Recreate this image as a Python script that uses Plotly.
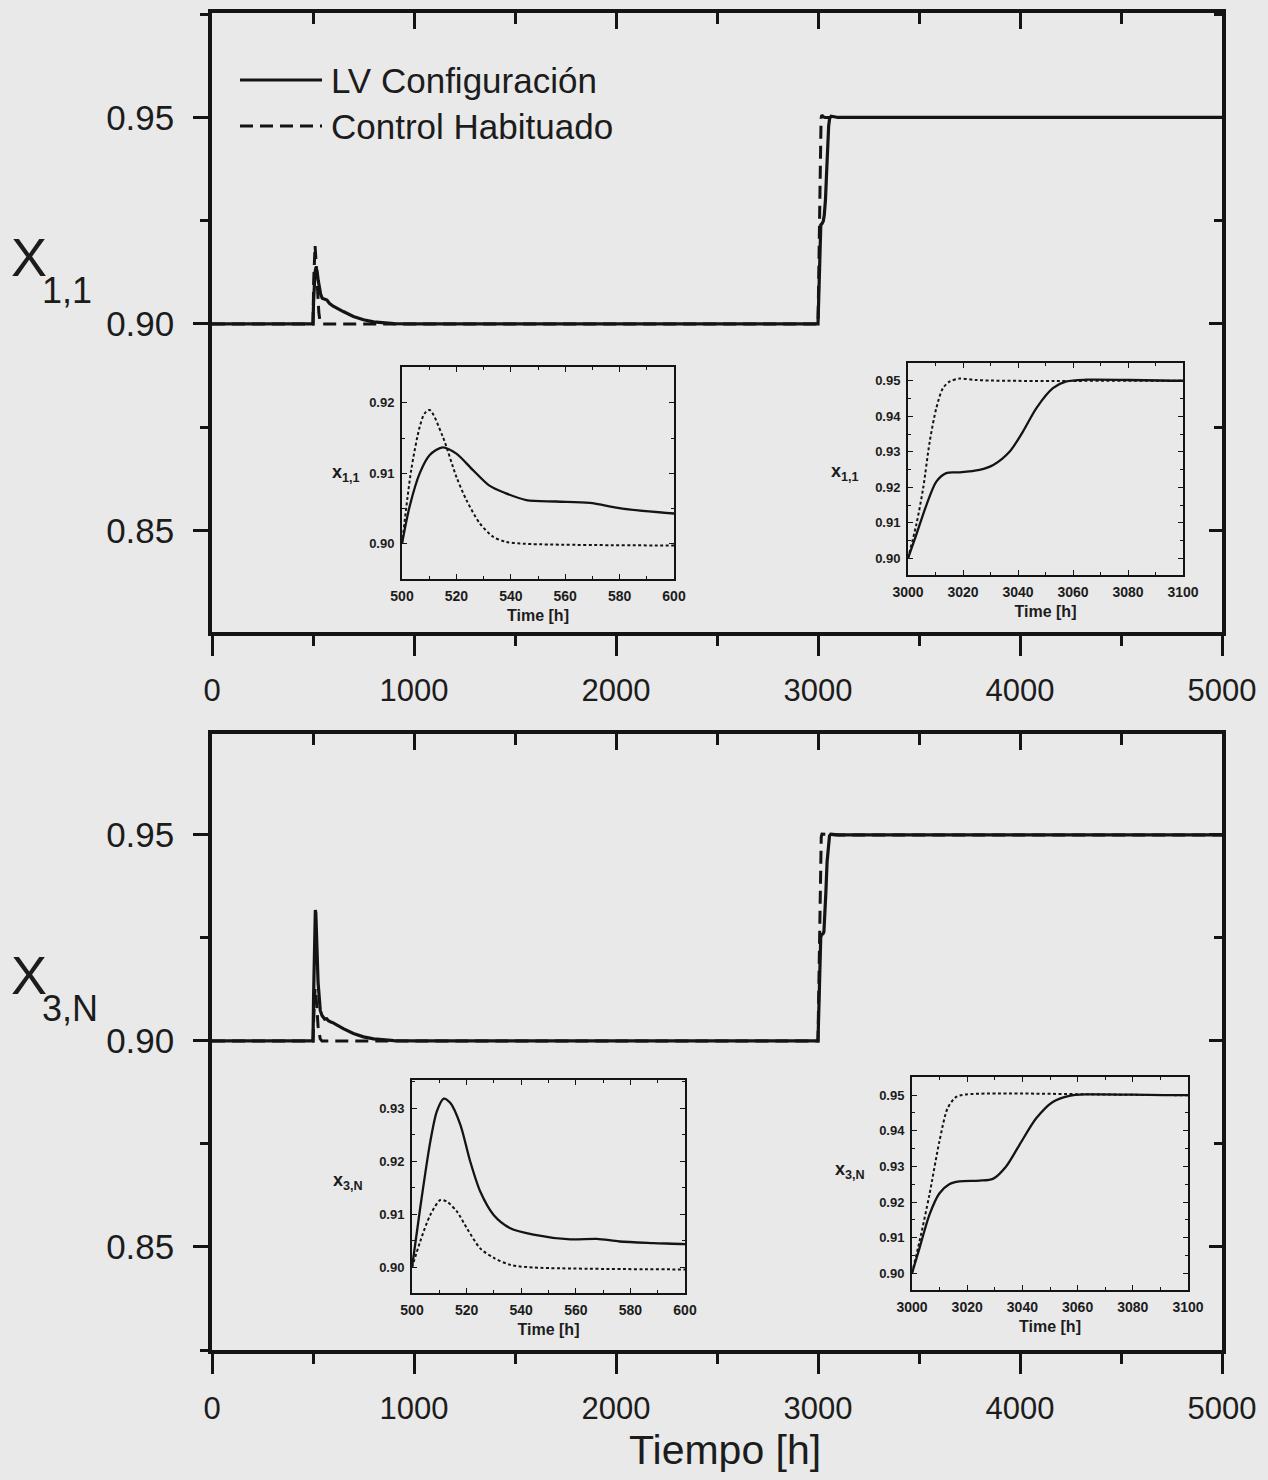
import plotly.graph_objects as go

W, H = 1268, 1480

# ---------------- data ----------------
# x_{1,1}, LV configuration (solid)
t_lv11 = [0, 500, 502.8, 506.5, 510.2, 515, 520, 526, 532, 538, 545.7, 556.7, 569, 581, 600,
          650, 700, 750, 800, 900, 1000,
          3000, 3003, 3006.7, 3010.3, 3013.9, 3018.8, 3026, 3031, 3037, 3041.8, 3046.7,
          3052.7, 3057.6, 3064.8, 3100, 5000]
v_lv11 = [0.900, 0.900, 0.9053, 0.9100, 0.9126, 0.9137, 0.9128, 0.9105, 0.9083, 0.9072, 0.9062,
          0.9060, 0.9058, 0.9050, 0.9043,
          0.9030, 0.9018, 0.9010, 0.9005, 0.9001, 0.900,
          0.900, 0.9066, 0.9150, 0.9216, 0.9240, 0.9242, 0.9249, 0.9263, 0.9301, 0.9357, 0.9423,
          0.9479, 0.9498, 0.9503, 0.950, 0.950]

# x_{1,1}, usual control (dashed)
t_c11 = [0, 500, 503.4, 506.5, 508.3, 510.2, 515, 520, 523.7, 528.6, 533.5, 538, 545, 1000,
         3000, 3003, 3005.5, 3007.9, 3010.3, 3012.7, 3015.2, 3018.8, 3024.8, 3035, 3100, 5000]
v_c11 = [0.900, 0.900, 0.9105, 0.9166, 0.9185, 0.9190, 0.9152, 0.9095, 0.9062, 0.9029, 0.9010,
         0.9003, 0.9000, 0.900,
         0.900, 0.9094, 0.9197, 0.9329, 0.9423, 0.9479, 0.9498, 0.9506, 0.9502, 0.9500, 0.950, 0.950]

# x_{3,N}, LV configuration (solid)
t_lv3N = [0, 500, 503, 506.7, 509.1, 511.6, 514, 517.7, 521.3, 525, 529.9, 536, 544.5, 558,
          567.7, 576, 588.4, 600, 650, 700, 750, 800, 900, 1000,
          3000, 3002.7, 3006.3, 3009.9, 3013.5, 3017.2, 3024.4, 3029.3, 3034.1, 3038.9, 3045,
          3051, 3057, 3063, 3100, 5000]
v_lv3N = [0.900, 0.900, 0.9112, 0.9237, 0.9294, 0.9318, 0.9310, 0.9269, 0.9200, 0.9143, 0.9099,
          0.9074, 0.9062, 0.9053, 0.9054, 0.9049, 0.9046, 0.9044, 0.9030, 0.9018, 0.9010, 0.9005,
          0.9001, 0.900,
          0.900, 0.9070, 0.9164, 0.9224, 0.9250, 0.9258, 0.9260, 0.9265, 0.9300, 0.9360, 0.9435,
          0.9481, 0.9498, 0.9502, 0.950, 0.950]

# x_{3,N}, usual control (dashed)
t_c3N = [0, 500, 503, 506.7, 510.4, 512.8, 516.5, 520.1, 525, 530, 536, 544.5, 1000,
         3000, 3002.7, 3006.3, 3009.9, 3012.9, 3016, 3019.6, 3100, 5000]
v_c3N = [0.900, 0.900, 0.9049, 0.9099, 0.9127, 0.9124, 0.9105, 0.9074, 0.9036, 0.9018, 0.9005,
         0.9000, 0.900,
         0.900, 0.9089, 0.9220, 0.9369, 0.9463, 0.9495, 0.9502, 0.950, 0.950]

series_names = ["LV Configuración", "Control Habituado"]
main_xticks = [0, 1000, 2000, 3000, 4000, 5000]
main_yticks = [0.85, 0.90, 0.95]

# ---------------- style ----------------
INK = "#141414"
TXT = "#1c1c1c"
BG = "#e9e9e9"
FONT = "Liberation Sans, Arial, sans-serif"
MAIN_DASH = "13px,7px"


def px(x):
    return x / W


def py(y):
    return 1 - y / H


def window(t, v, lo, hi):
    """points inside [lo, hi] plus the first point after hi (clipped by the axis range)"""
    tt, vv = [], []
    for a, b in zip(t, v):
        if lo <= a <= hi:
            tt.append(a)
            vv.append(b)
        elif a > hi:
            tt.append(a)
            vv.append(b)
            break
    return tt, vv


fig = go.Figure()

# main panels
panels = [("x", "y", t_lv11, v_lv11, t_c11, v_c11),
          ("x2", "y2", t_lv3N, v_lv3N, t_c3N, v_c3N)]
for xa, ya, tl, vl, tc, vc in panels:
    fig.add_trace(go.Scatter(x=tc, y=vc, xaxis=xa, yaxis=ya, mode="lines",
                             name=series_names[1], showlegend=False,
                             line=dict(color=INK, width=3, dash=MAIN_DASH)))
    fig.add_trace(go.Scatter(x=tl, y=vl, xaxis=xa, yaxis=ya, mode="lines",
                             name=series_names[0], showlegend=False,
                             line=dict(color=INK, width=3.2)))

# invisible traces carrying the mirrored (inside) top/right axes
fig.add_trace(go.Scatter(x=t_lv11, y=v_lv11, xaxis="x7", yaxis="y7", mode="lines",
                         showlegend=False, hoverinfo="skip", opacity=0))
fig.add_trace(go.Scatter(x=t_lv3N, y=v_lv3N, xaxis="x8", yaxis="y8", mode="lines",
                         showlegend=False, hoverinfo="skip", opacity=0))

# insets
insets = [("x3", "y3", t_lv11, v_lv11, t_c11, v_c11, 500, 600),
          ("x4", "y4", t_lv11, v_lv11, t_c11, v_c11, 3000, 3100),
          ("x5", "y5", t_lv3N, v_lv3N, t_c3N, v_c3N, 500, 600),
          ("x6", "y6", t_lv3N, v_lv3N, t_c3N, v_c3N, 3000, 3100)]
for xa, ya, tl, vl, tc, vc, lo, hi in insets:
    a, b = window(tc, vc, lo, hi)
    fig.add_trace(go.Scatter(x=a, y=b, xaxis=xa, yaxis=ya, mode="lines", showlegend=False,
                             line=dict(color=INK, width=2, dash="3px,2.5px", shape="spline",
                                       smoothing=0.8)))
    a, b = window(tl, vl, lo, hi)
    fig.add_trace(go.Scatter(x=a, y=b, xaxis=xa, yaxis=ya, mode="lines", showlegend=False,
                             line=dict(color=INK, width=2.3, shape="spline", smoothing=0.8)))

main_x_dom = [px(212), px(1222)]
top_y_dom = [py(632), py(13)]
bot_y_dom = [py(1350), py(734)]
main_range_top = [0.8254, 0.9753]
main_range_bot = [0.8250, 0.9745]


def main_x(anchor, show_labels=True):
    return dict(domain=main_x_dom, anchor=anchor, range=[0, 5000], tickvals=main_xticks,
                ticks="outside", ticklen=20, tickwidth=3, tickcolor=INK,
                minor=dict(dtick=500, ticks="outside", ticklen=10, tickwidth=3, tickcolor=INK),
                showline=True, linewidth=3.5, linecolor=INK, showgrid=False, zeroline=False,
                showticklabels=show_labels, ticklabelstandoff=8,
                tickfont=dict(family=FONT, size=31, color=TXT), automargin=False)


def main_y(dom, anchor, rng):
    return dict(domain=dom, anchor=anchor, range=rng, tickvals=main_yticks, tickformat=".2f",
                ticks="outside", ticklen=15, tickwidth=3, tickcolor=INK,
                minor=dict(dtick=0.025, tick0=0.85, ticks="outside", ticklen=8, tickwidth=3,
                           tickcolor=INK),
                showline=True, linewidth=3.5, linecolor=INK, showgrid=False, zeroline=False,
                ticklabelstandoff=12,
                tickfont=dict(family=FONT, size=35, color=TXT), automargin=False)


def mirror_x(over, anchor):
    return dict(overlaying=over, anchor=anchor, side="top", range=[0, 5000],
                tickvals=main_xticks, ticks="inside", ticklen=16, tickwidth=3, tickcolor=INK,
                minor=dict(dtick=500, ticks="inside", ticklen=11, tickwidth=3, tickcolor=INK),
                showline=True, linewidth=3.5, linecolor=INK, showgrid=False, zeroline=False,
                showticklabels=False, automargin=False)


def mirror_y(over, anchor, rng):
    return dict(overlaying=over, anchor=anchor, side="right", range=rng, tickvals=main_yticks,
                ticks="inside", ticklen=13, tickwidth=3, tickcolor=INK,
                minor=dict(dtick=0.025, tick0=0.85, ticks="inside", ticklen=8, tickwidth=3,
                           tickcolor=INK),
                showline=True, linewidth=3.5, linecolor=INK, showgrid=False, zeroline=False,
                showticklabels=False, automargin=False)


def inset_x(x0, x1, anchor, rng, tvals):
    return dict(domain=[px(x0), px(x1)], anchor=anchor, range=rng, tickvals=tvals,
                ticks="inside", ticklen=5, tickwidth=1.4, tickcolor=INK, mirror="ticks",
                minor=dict(dtick=10, ticks="inside", ticklen=3, tickwidth=1.2, tickcolor=INK),
                showline=True, linewidth=1.9, linecolor=INK, showgrid=False, zeroline=False,
                ticklabelstandoff=3,
                tickfont=dict(family=FONT, size=14, color=TXT, weight="bold"),
                title=dict(text="Time [h]", standoff=7,
                           font=dict(family=FONT, size=16, color=TXT, weight="bold")),
                automargin=False)


def inset_y(y0, y1, anchor, rng, tvals):
    return dict(domain=[py(y1), py(y0)], anchor=anchor, range=rng, tickvals=tvals,
                tickformat=".2f",
                ticks="inside", ticklen=5, tickwidth=1.4, tickcolor=INK, mirror="ticks",
                minor=dict(dtick=0.005, ticks="inside", ticklen=3, tickwidth=1.2, tickcolor=INK),
                showline=True, linewidth=1.9, linecolor=INK, showgrid=False, zeroline=False,
                ticklabelstandoff=3,
                tickfont=dict(family=FONT, size=13, color=TXT, weight="bold"),
                automargin=False)


short_t = [500, 520, 540, 560, 580, 600]
step_t = [3000, 3020, 3040, 3060, 3080, 3100]
y_small = [0.90, 0.91, 0.92]
y_small3 = [0.90, 0.91, 0.92, 0.93]
y_step = [0.90, 0.91, 0.92, 0.93, 0.94, 0.95]

fig.update_layout(
    width=W, height=H,
    margin=dict(l=0, r=0, t=0, b=0),
    paper_bgcolor=BG, plot_bgcolor=BG,
    font=dict(family=FONT, color=TXT),
    showlegend=False,
    xaxis=main_x("y"),
    yaxis=main_y(top_y_dom, "x", main_range_top),
    xaxis2=main_x("y2"),
    yaxis2=main_y(bot_y_dom, "x2", main_range_bot),
    xaxis7=mirror_x("x", "y7"),
    yaxis7=mirror_y("y", "x7", main_range_top),
    xaxis8=mirror_x("x2", "y8"),
    yaxis8=mirror_y("y2", "x8", main_range_bot),
    xaxis3=inset_x(402, 674, "y3", [500, 600], short_t),
    yaxis3=inset_y(367, 579, "x3", [0.895, 0.9251], y_small),
    xaxis4=inset_x(908, 1183, "y4", [3000, 3100], step_t),
    yaxis4=inset_y(363, 575, "x4", [0.8953, 0.955], y_step),
    xaxis5=inset_x(412, 685, "y5", [500, 600], short_t),
    yaxis5=inset_y(1080, 1293, "x5", [0.8952, 0.9353], y_small3),
    xaxis6=inset_x(912, 1188, "y6", [3000, 3100], step_t),
    yaxis6=inset_y(1077, 1290, "x6", [0.8953, 0.9551], y_step),
)

# legend (keys + labels) in the upper-left corner of the top panel
legend_rows = [(series_names[0], None, 80), (series_names[1], MAIN_DASH, 126)]
for name, dash, yy in legend_rows:
    fig.add_shape(type="line", xref="paper", yref="paper", x0=px(240), x1=px(322),
                  y0=py(yy), y1=py(yy),
                  line=dict(color=INK, width=3, dash=dash if dash else "solid"))
    fig.add_annotation(text=name, x=px(329), y=py(yy), xref="paper", yref="paper",
                       xanchor="left", yanchor="middle", showarrow=False,
                       font=dict(family=FONT, size=35, color=TXT))

annots = [
    dict(text="X", x=px(9), y=py(257), size=54, xa="left"),
    dict(text="1,1", x=px(40), y=py(290), size=36, xa="left"),
    dict(text="X", x=px(9), y=py(975), size=54, xa="left"),
    dict(text="3,N", x=px(40), y=py(1008), size=36, xa="left"),
    dict(text="Tiempo [h]", x=px(725), y=py(1450), size=41, xa="center"),
]
for a in annots:
    fig.add_annotation(text=a["text"], x=a["x"], y=a["y"], xref="paper", yref="paper",
                       xanchor=a["xa"], yanchor="middle", showarrow=False,
                       font=dict(family=FONT, size=a["size"], color=TXT))

inset_labels = [("x<sub>1,1</sub>", 346, 474), ("x<sub>1,1</sub>", 845, 472),
                ("x<sub>3,N</sub>", 348, 1181), ("x<sub>3,N</sub>", 850, 1170)]
for txt, xx, yy in inset_labels:
    fig.add_annotation(text=txt, x=px(xx), y=py(yy), xref="paper", yref="paper",
                       xanchor="center", yanchor="middle", showarrow=False,
                       font=dict(family=FONT, size=18, color=TXT, weight="bold"))

fig.write_html("out.html")
